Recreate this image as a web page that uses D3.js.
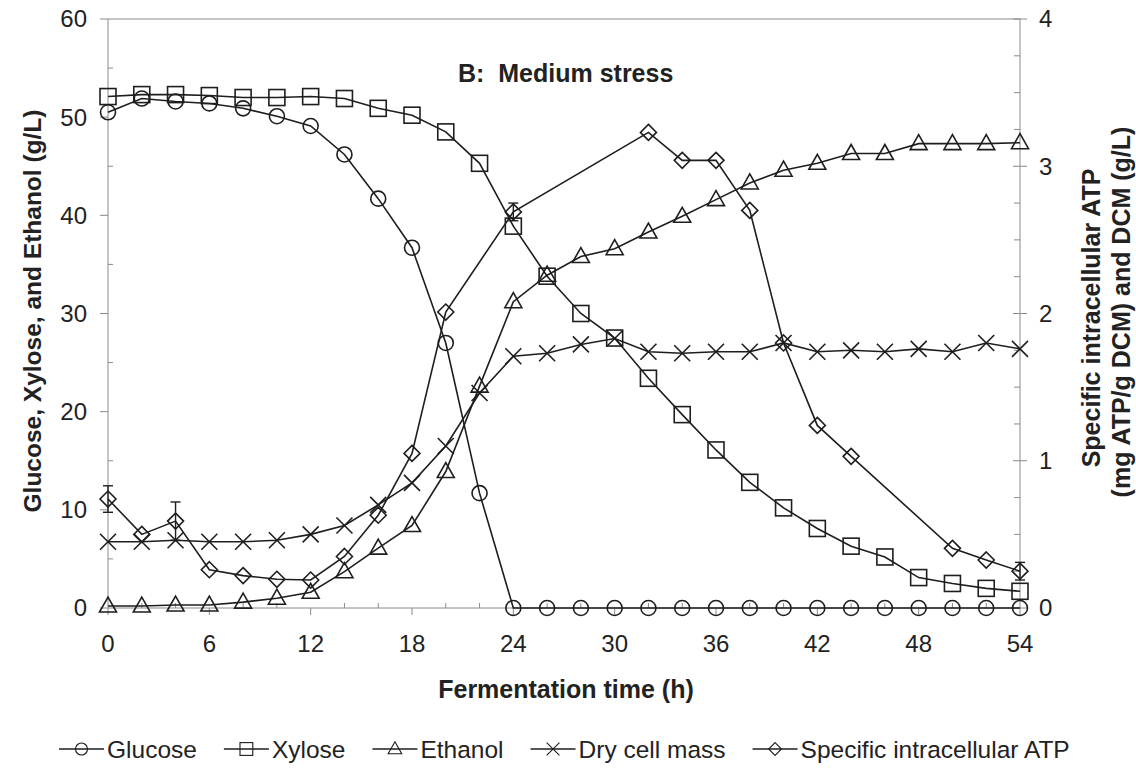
<!DOCTYPE html>
<html>
<head>
<meta charset="utf-8">
<script src="https://cdn.jsdelivr.net/npm/d3@7"></script>
<style>
  body { margin: 0; background: #fff; }
  svg text { font-family: "Liberation Sans", Arial, sans-serif; fill: #222; }
</style>
</head>
<body>
<svg id="chart" width="1136" height="772"></svg>
<script>
// tiempo de fermentacion (h)
const tiempo = [0,2,4,6,8,10,12,14,16,18,20,22,24,26,28,30,32,34,36,38,40,42,44,46,48,50,52,54];

// eje izquierdo (g/L)
const glucosa = [50.5,51.9,51.6,51.4,50.9,50.1,49.1,46.2,41.7,36.7,27.0,11.7,0,0,0,0,0,0,0,0,0,0,0,0,0,0,0,0];
const xilosa  = [52.1,52.3,52.3,52.2,52.0,52.0,52.1,51.9,50.9,50.2,48.5,45.3,38.9,33.8,30.0,27.5,23.4,19.7,16.1,12.8,10.2,8.1,6.3,5.2,3.1,2.5,2.0,1.7];
const etanol  = [0.2,0.2,0.3,0.3,0.6,1.0,1.6,3.7,6.1,8.4,13.9,22.6,31.2,33.9,35.8,36.6,38.3,39.9,41.6,43.3,44.6,45.3,46.3,46.3,47.3,47.3,47.3,47.4];

// eje derecho
const biomasa = [0.45,0.45,0.46,0.45,0.45,0.46,0.50,0.56,0.70,0.85,1.10,1.46,1.71,1.73,1.79,1.83,1.74,1.73,1.74,1.74,1.80,1.74,1.75,1.74,1.76,1.74,1.80,1.76];
const tiempoAtp = [0,2,4,6,8,10,12,14,16,18,20,24,32,34,36,38,40,42,44,50,52,54];
const atp       = [0.74,0.50,0.59,0.26,0.22,0.195,0.19,0.35,0.63,1.05,2.01,2.69,3.23,3.04,3.04,2.70,1.80,1.24,1.03,0.405,0.326,0.25];
const atpError  = [0.09,0,0.13,0,0,0,0,0,0,0,0,0.06,0,0,0,0,0,0,0,0,0,0.06];

const ticksX = [0,6,12,18,24,30,36,42,48,54];
const ticksIzq = [0,10,20,30,40,50,60];
const ticksDer = [0,1,2,3,4];

const series = [
  { nombre: "Glucose", t: tiempo, v: glucosa, eje: "izq", marca: "circulo" },
  { nombre: "Xylose", t: tiempo, v: xilosa, eje: "izq", marca: "cuadrado" },
  { nombre: "Ethanol", t: tiempo, v: etanol, eje: "izq", marca: "triangulo" },
  { nombre: "Dry cell mass", t: tiempo, v: biomasa, eje: "der", marca: "cruz" },
  { nombre: "Specific intracellular ATP", t: tiempoAtp, v: atp, eje: "der", marca: "rombo" }
];

const svg = d3.select("#chart");
const izq = 108, der = 1020, arriba = 19, abajo = 608;
const gris = "#8a8a8a", tinta = "#1e1e1e";

const x = d3.scaleLinear().domain([0, 54]).range([izq, der]);
const yIzq = d3.scaleLinear().domain([0, 60]).range([abajo, arriba]);
const yDer = d3.scaleLinear().domain([0, 4]).range([abajo, arriba]);

// marco y ejes
svg.append("line").attr("x1", izq).attr("x2", der).attr("y1", arriba).attr("y2", arriba).attr("stroke", gris);
svg.append("line").attr("x1", izq).attr("x2", der).attr("y1", abajo).attr("y2", abajo).attr("stroke", gris);
svg.append("line").attr("x1", izq).attr("x2", izq).attr("y1", arriba).attr("y2", abajo).attr("stroke", gris);
svg.append("line").attr("x1", der).attr("x2", der).attr("y1", arriba).attr("y2", abajo).attr("stroke", gris);

const ejes = svg.append("g").attr("stroke", gris).attr("stroke-width", 1);
// eje x: mayores hacia fuera, menores hacia dentro
d3.range(0, 55, 2).forEach(t => {
  const mayor = t % 6 === 0;
  ejes.append("line").attr("x1", x(t)).attr("x2", x(t))
    .attr("y1", abajo).attr("y2", mayor ? abajo + 7 : abajo - 5);
});
d3.range(0, 61, 5).forEach(v => {
  const mayor = v % 10 === 0;
  ejes.append("line").attr("y1", yIzq(v)).attr("y2", yIzq(v))
    .attr("x1", mayor ? izq - 8 : izq).attr("x2", mayor ? izq : izq + 5);
});
d3.range(0, 4.01, 0.25).forEach(v => {
  const mayor = Math.abs(v - Math.round(v)) < 1e-6;
  ejes.append("line").attr("y1", yDer(v)).attr("y2", yDer(v))
    .attr("x1", mayor ? der - 7 : der - 6).attr("x2", mayor ? der + 7 : der);
});

svg.selectAll(".tx").data(ticksX).enter().append("text")
  .attr("x", d => x(d)).attr("y", 652).attr("text-anchor", "middle")
  .style("font-size", "24px").attr("fill", "#333").text(d => d);
svg.selectAll(".ti").data(ticksIzq).enter().append("text")
  .attr("x", 87).attr("y", d => yIzq(d)).attr("dy", "0.35em").attr("text-anchor", "end")
  .style("font-size", "24px").text(d => d);
svg.selectAll(".td").data(ticksDer).enter().append("text")
  .attr("x", 1039).attr("y", d => yDer(d)).attr("dy", "0.35em")
  .style("font-size", "24px").text(d => d);

// titulos
svg.append("text").attr("x", 566).attr("y", 698).attr("text-anchor", "middle")
  .style("font-size", "25px").style("font-weight", "bold").text("Fermentation time (h)");
svg.append("text").attr("transform", "translate(41,311) rotate(-90)").attr("text-anchor", "middle")
  .style("font-size", "24.5px").style("font-weight", "bold").text("Glucose, Xylose, and Ethanol (g/L)");
svg.append("text").attr("transform", "translate(1100,318) rotate(-90)").attr("text-anchor", "middle")
  .style("font-size", "25px").style("font-weight", "bold").text("Specific intracellular ATP");
svg.append("text").attr("transform", "translate(1130,312) rotate(-90)").attr("text-anchor", "middle")
  .style("font-size", "25px").style("font-weight", "bold").text("(mg ATP/g DCM) and DCM (g/L)");
svg.append("text").attr("x", 458).attr("y", 82)
  .style("font-size", "25px").style("font-weight", "bold").attr("xml:space", "preserve")
  .text("B:  Medium stress");

function dibujarMarca(g, tipo) {
  if (tipo === "circulo") g.append("circle").attr("r", 7.5);
  else if (tipo === "cuadrado") g.append("rect").attr("x", -8).attr("y", -8).attr("width", 16).attr("height", 16);
  else if (tipo === "triangulo") g.append("path").attr("d", "M0,-9L8.5,6L-8.5,6Z");
  else if (tipo === "cruz") g.append("path").attr("d", "M-8,-8L8,8M-8,8L8,-8");
  else if (tipo === "rombo") g.append("path").attr("d", "M0,-8L8,0L0,8L-8,0Z");
}

const linea = d3.line();
series.forEach(s => {
  const y = s.eje === "izq" ? yIzq : yDer;
  const pts = s.t.map((t, i) => [x(t), y(s.v[i])]);
  svg.append("path").attr("d", linea(pts)).attr("fill", "none")
    .attr("stroke", tinta).attr("stroke-width", 1.6);
  const g = svg.append("g").attr("fill", "none").attr("stroke", tinta).attr("stroke-width", 1.6);
  pts.forEach(p => dibujarMarca(g.append("g").attr("transform", `translate(${p[0]},${p[1]})`), s.marca));
});

// barras de error del ATP
const barras = svg.append("g").attr("stroke", tinta).attr("stroke-width", 1.4);
tiempoAtp.forEach((t, i) => {
  if (!atpError[i]) return;
  const y1 = yDer(atp[i] - atpError[i]), y2 = yDer(atp[i] + atpError[i]);
  barras.append("line").attr("x1", x(t)).attr("x2", x(t)).attr("y1", y1).attr("y2", y2);
  barras.append("line").attr("x1", x(t) - 5).attr("x2", x(t) + 5).attr("y1", y1).attr("y2", y1);
  barras.append("line").attr("x1", x(t) - 5).attr("x2", x(t) + 5).attr("y1", y2).attr("y2", y2);
});

// leyenda
let lx = 59;
const ly = 749;
series.forEach(s => {
  const g = svg.append("g");
  g.append("line").attr("x1", lx).attr("x2", lx + 45).attr("y1", ly).attr("y2", ly)
    .attr("stroke", tinta).attr("stroke-width", 1.6);
  const m = g.append("g").attr("transform", `translate(${lx + 22.5},${ly})`)
    .attr("fill", "none").attr("stroke", tinta).attr("stroke-width", 1.4);
  dibujarMarca(m.append("g").attr("transform", "scale(0.8)"), s.marca);
  const txt = g.append("text").attr("x", lx + 48).attr("y", ly).attr("dy", "0.35em")
    .style("font-size", "24.5px").text(s.nombre);
  lx += 48 + txt.node().getComputedTextLength() + 27;
});
</script>
</body>
</html>
